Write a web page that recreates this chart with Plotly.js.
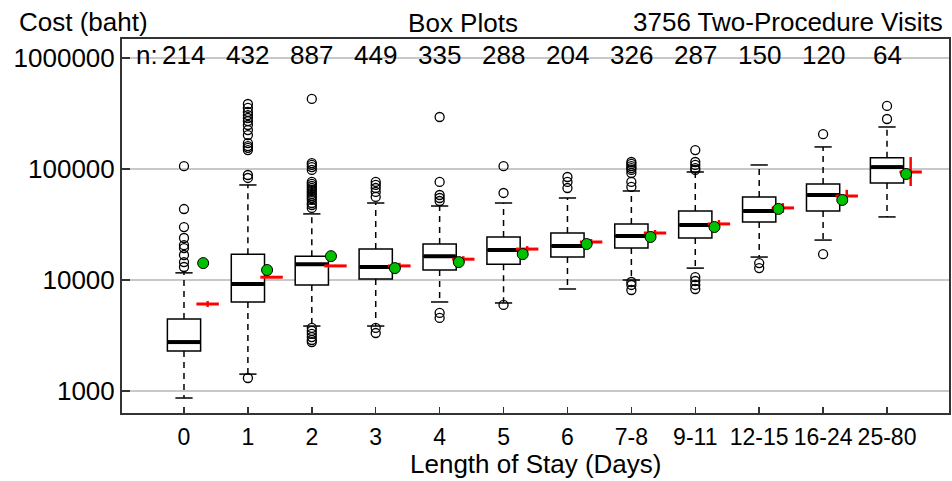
<!DOCTYPE html>
<html>
<head>
<meta charset="utf-8">
<script src="https://cdn.plot.ly/plotly-3.0.1.min.js"></script>
<style>
html,body{margin:0;padding:0;background:#fff;}
#chart{width:952px;height:481px;}
</style>
</head>
<body>
<div id="chart"></div>
<script>
// ---------------- data ----------------
const categories = ['0','1','2','3','4','5','6','7-8','9-11','12-15','16-24','25-80'];
const nCounts = [214, 432, 887, 449, 335, 288, 204, 326, 287, 150, 120, 64];
const q1 = [2290, 6340, 9020, 10200, 12300, 13900, 16100, 19400, 23900, 33300, 41900, 74800];
const medians = [2760, 9200, 13900, 13100, 16400, 18600, 20200, 24900, 31300, 41900, 58300, 104000];
const q3 = [4450, 17100, 16400, 19000, 21100, 24400, 26500, 32000, 41900, 56000, 73300, 126000];
const whiskerLow = [865, 1420, 3850, 3850, 6340, 6210, 8300, 10000, 12800, 16100, 22900, 37000];
const whiskerHigh = [11600, 71800, 39400, 49400, 46400, 49400, 54800, 63400, 94000, 108700, 158000, 239000];
const means = [14200, 12300, 16400, 12800, 14500, 17100, 21100, 24400, 30000, 43700, 52600, 90200];
const redCenter = [6080, 10600, 13400, 13400, 15400, 19000, 22000, 26500, 32000, 44600, 57100, 94000];
const redLow = [5720, 10400, 13100, 12600, 14500, 17900, 20700, 24900, 29500, 40300, 50200, 70300];
const redHigh = [6460, 10800, 13700, 14300, 16400, 20200, 23400, 28200, 34700, 49300, 64900, 128000];
const outliers = [
  [106000, 43600, 30000, 23900, 20600, 19400, 16800, 14500, 13100],
  [385000, 355000, 326000, 306000, 288000, 270000, 249000, 224000, 202000, 171000, 161000, 155000, 148000, 88300, 83000, 1310],
  [428000, 113000, 109000, 104000, 98000, 76400, 73300, 70300, 67400, 64700, 62100, 59600, 57100, 54800, 52600, 49400, 47400, 44600, 3700, 3480, 3270, 3060, 2880, 2760],
  [76400, 71800, 67400, 62100, 56000, 3700, 3330],
  [294000, 76400, 58300, 54800, 51500, 5050, 4550],
  [106000, 60800, 5960],
  [84700, 76400, 67400],
  [115600, 111000, 106000, 102000, 98000, 92000, 76400, 69000, 9600, 9020, 8130],
  [148000, 115600, 108700, 102000, 98000, 10600, 9800, 9020, 8300],
  [14200, 12800],
  [206000, 17100],
  [370000, 282000]
];
const yTickVals = [1000, 10000, 100000, 1000000];
const yTickText = ['1000', '10000', '100000', '1000000'];
const totalVisits = 3756;

// ---------------- build traces ----------------
const idx = categories.map((_, i) => i);
const FONT = 'Liberation Sans, Arial, Helvetica, sans-serif';
const halfBox = 0.26, halfCap = 0.135, meanOff = 0.30, redOff = 0.37;

const boxTrace = {
  type: 'box', x: idx, q1: q1, median: medians, q3: q3,
  lowerfence: q1, upperfence: q3, width: 2 * halfBox,
  whiskerwidth: 0, boxpoints: false,
  fillcolor: '#ffffff', line: {color: '#000000', width: 1.5},
  hoverinfo: 'skip', showlegend: false
};

const wx = [], wy = [], cx = [], cy = [], mx = [], my = [];
idx.forEach(i => {
  wx.push(i, i, null, i, i, null);
  wy.push(q3[i], whiskerHigh[i], null, q1[i], whiskerLow[i], null);
  cx.push(i - halfCap, i + halfCap, null, i - halfCap, i + halfCap, null);
  cy.push(whiskerHigh[i], whiskerHigh[i], null, whiskerLow[i], whiskerLow[i], null);
  mx.push(i - halfBox + 0.01, i + halfBox - 0.01, null);
  my.push(medians[i], medians[i], null);
});
const whiskerTrace = {type: 'scatter', mode: 'lines', x: wx, y: wy,
  line: {color: '#000', width: 1.5, dash: '6px,5px'}, hoverinfo: 'skip', showlegend: false};
const capTrace = {type: 'scatter', mode: 'lines', x: cx, y: cy,
  line: {color: '#000', width: 1.5}, hoverinfo: 'skip', showlegend: false};
const medianTrace = {type: 'scatter', mode: 'lines', x: mx, y: my,
  line: {color: '#000', width: 4}, hoverinfo: 'skip', showlegend: false};

const ox = [], oy = [];
outliers.forEach((arr, i) => arr.forEach(v => { ox.push(i); oy.push(v); }));
const outlierTrace = {type: 'scatter', mode: 'markers', x: ox, y: oy,
  marker: {symbol: 'circle-open', size: 9, color: '#000', line: {width: 1.3, color: '#000'}},
  hoverinfo: 'skip', showlegend: false};

const redTrace = {type: 'scatter', mode: 'markers', x: idx.map(i => i + redOff), y: redCenter,
  marker: {symbol: 'line-ew', size: 16, color: '#ff0000', line: {width: 3, color: '#ff0000'}},
  error_y: {type: 'data', symmetric: false,
    array: redHigh.map((h, i) => h - redCenter[i]),
    arrayminus: redLow.map((l, i) => redCenter[i] - l),
    color: '#ff0000', thickness: 2.5, width: 0},
  hoverinfo: 'skip', showlegend: false};

const meanTrace = {type: 'scatter', mode: 'markers', x: idx.map(i => i + meanOff), y: means,
  marker: {symbol: 'circle', size: 11, color: '#00c000', line: {width: 1, color: '#000'}},
  hoverinfo: 'skip', showlegend: false};

// ---------------- layout ----------------
const W = 952, H = 481, L = 122, R = 3, T = 39, B = 68;
const pw = W - L - R, ph = H - T - B;
const px2x = p => (p - L) / pw;
const px2y = p => (H - B - p) / ph;

const annotations = [
  {text: 'Cost (baht)', xref: 'paper', yref: 'paper', x: px2x(17), y: px2y(22.5), xanchor: 'left', yanchor: 'middle'},
  {text: totalVisits + ' Two-Procedure Visits', xref: 'paper', yref: 'paper', x: px2x(945), y: px2y(22.5), xanchor: 'right', yanchor: 'middle'},
  {text: 'n:', xref: 'paper', yref: 'paper', x: px2x(134), y: px2y(54.6), xanchor: 'left', yanchor: 'middle'},
  {text: 'Length of Stay (Days)', xref: 'paper', yref: 'paper', x: 0.5, y: px2y(463.5), xanchor: 'center', yanchor: 'middle'}
].concat(nCounts.map((n, i) => ({
  text: String(n), xref: 'x', yref: 'paper', x: i, y: px2y(54.6), xanchor: 'center', yanchor: 'middle'
}))).map(a => Object.assign({showarrow: false, font: {family: FONT, size: 26, color: '#000'}}, a));

const layout = {
  width: W, height: H,
  margin: {l: L, r: R, t: T, b: B, pad: 0},
  paper_bgcolor: '#fff', plot_bgcolor: '#fff',
  showlegend: false,
  font: {family: FONT, color: '#000'},
  title: {text: 'Box Plots', font: {family: FONT, size: 26, color: '#000'},
    x: 463 / W, xanchor: 'center', xref: 'container', y: 1 - 22.5 / H, yanchor: 'middle'},
  xaxis: {
    range: [-0.97, 11.97], tickmode: 'array', tickvals: idx, ticktext: categories,
    ticks: 'inside', ticklen: 6, tickwidth: 1.5, tickcolor: '#333',
    ticklabelstandoff: 2,
    tickfont: {family: FONT, size: 23, color: '#000'},
    showgrid: false, zeroline: false, showline: true, mirror: true,
    linecolor: '#333', linewidth: 2, fixedrange: true
  },
  yaxis: {
    type: 'log', range: [2.802, 6.171], tickmode: 'array', tickvals: yTickVals, ticktext: yTickText,
    ticks: 'inside', ticklen: 8, tickwidth: 1.5, tickcolor: '#333',
    tickfont: {family: FONT, size: 26, color: '#000'},
    showgrid: true, gridcolor: '#c8c8c8', gridwidth: 1.5,
    zeroline: false, showline: true, mirror: true,
    linecolor: '#333', linewidth: 2, fixedrange: true
  },
  annotations: annotations
};

Plotly.newPlot('chart',
  [boxTrace, whiskerTrace, capTrace, medianTrace, outlierTrace, redTrace, meanTrace],
  layout, {displayModeBar: false, staticPlot: true});
</script>
</body>
</html>
